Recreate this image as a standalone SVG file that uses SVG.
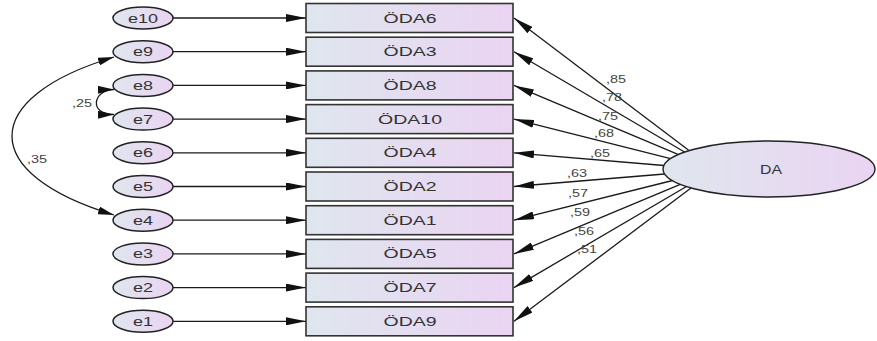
<svg xmlns="http://www.w3.org/2000/svg" width="877" height="341" viewBox="0 0 877 341">
<defs>
<linearGradient id="g" x1="0" y1="0" x2="1" y2="0">
<stop offset="0" stop-color="#dfe6ee"/>
<stop offset="1" stop-color="#ead4f2"/>
</linearGradient>
<marker id="ah" viewBox="0 0 20 8" refX="20" refY="4" markerWidth="20" markerHeight="8" markerUnits="userSpaceOnUse" orient="auto-start-reverse">
<path d="M0,0 L20,4 L0,8 Z" fill="#111"/>
</marker>
<marker id="ah2" viewBox="0 0 16 8" refX="16" refY="4" markerWidth="16" markerHeight="8" markerUnits="userSpaceOnUse" orient="auto-start-reverse">
<path d="M0,0 L16,4 L0,8 Z" fill="#111"/>
</marker>
</defs>
<style>
.err{fill:url(#g);stroke:#222;stroke-width:1.5}
.box{fill:url(#g);stroke:#333;stroke-width:1.6}
.lat{fill:url(#g);stroke:#222;stroke-width:1.4}
.t{font-family:"Liberation Sans",Arial,sans-serif;font-size:13px;fill:#333;text-anchor:middle}
.w{font-family:"Liberation Sans",Arial,sans-serif;font-size:10px;fill:#444}
.c line,.c path{stroke:#1a1a1a;stroke-width:1.3;fill:none}
</style>

<g class="c" id="connectors">
<line x1="173" y1="18" x2="306" y2="18" marker-end="url(#ah)"/>
<line x1="173" y1="51.7" x2="306" y2="51.7" marker-end="url(#ah)"/>
<line x1="173" y1="85.4" x2="306" y2="85.4" marker-end="url(#ah)"/>
<line x1="173" y1="119.1" x2="306" y2="119.1" marker-end="url(#ah)"/>
<line x1="173" y1="152.8" x2="306" y2="152.8" marker-end="url(#ah)"/>
<line x1="173" y1="186.5" x2="306" y2="186.5" marker-end="url(#ah)"/>
<line x1="173" y1="220.2" x2="306" y2="220.2" marker-end="url(#ah)"/>
<line x1="173" y1="253.9" x2="306" y2="253.9" marker-end="url(#ah)"/>
<line x1="173" y1="287.6" x2="306" y2="287.6" marker-end="url(#ah)"/>
<line x1="173" y1="321.3" x2="306" y2="321.3" marker-end="url(#ah)"/>

<line x1="689" y1="150.6" x2="514" y2="18" marker-end="url(#ah)"/>
<line x1="684.5" y1="152" x2="514" y2="51.7" marker-end="url(#ah)"/>
<line x1="678" y1="154.4" x2="514" y2="85.4" marker-end="url(#ah)"/>
<line x1="670.6" y1="158.6" x2="514" y2="119.1" marker-end="url(#ah)"/>
<line x1="664" y1="165.5" x2="514" y2="152.8" marker-end="url(#ah)"/>
<line x1="664.5" y1="174" x2="514" y2="186.5" marker-end="url(#ah)"/>
<line x1="672.6" y1="180.5" x2="514" y2="220.2" marker-end="url(#ah)"/>
<line x1="680.3" y1="184.3" x2="514" y2="253.9" marker-end="url(#ah)"/>
<line x1="686.5" y1="186.5" x2="514" y2="287.6" marker-end="url(#ah)"/>
<line x1="691" y1="188" x2="514" y2="321.3" marker-end="url(#ah)"/>

<path d="M114,57 C-22,98 -22,174 114,215" marker-start="url(#ah2)" marker-end="url(#ah2)"/>
<path d="M114,89.5 C92,90 89,115 114,114.5" marker-start="url(#ah2)" marker-end="url(#ah2)"/>

<text class="w" x="606" y="82.5" textLength="20" lengthAdjust="spacingAndGlyphs">,85</text>
<text class="w" x="602" y="100.5" textLength="20" lengthAdjust="spacingAndGlyphs">,78</text>
<text class="w" x="598" y="119.5" textLength="20" lengthAdjust="spacingAndGlyphs">,75</text>
<text class="w" x="594" y="136.5" textLength="20" lengthAdjust="spacingAndGlyphs">,68</text>
<text class="w" x="590" y="156.5" textLength="20" lengthAdjust="spacingAndGlyphs">,65</text>
<text class="w" x="567" y="177" textLength="20" lengthAdjust="spacingAndGlyphs">,63</text>
<text class="w" x="568" y="197" textLength="20" lengthAdjust="spacingAndGlyphs">,57</text>
<text class="w" x="570" y="216" textLength="20" lengthAdjust="spacingAndGlyphs">,59</text>
<text class="w" x="574" y="234.5" textLength="20" lengthAdjust="spacingAndGlyphs">,56</text>
<text class="w" x="577" y="252.5" textLength="20" lengthAdjust="spacingAndGlyphs">,51</text>
<text class="w" x="72" y="106.5" textLength="20" lengthAdjust="spacingAndGlyphs">,25</text>
<text class="w" x="27" y="162.5" textLength="20" lengthAdjust="spacingAndGlyphs">,35</text>
</g>

<g id="e10"><ellipse class="err" cx="143" cy="18" rx="30" ry="11"/><text class="t" x="143" y="22.5" textLength="30" lengthAdjust="spacingAndGlyphs">e10</text></g>
<g id="e9"><ellipse class="err" cx="143" cy="51.7" rx="30" ry="11"/><text class="t" x="143" y="56.2" textLength="20" lengthAdjust="spacingAndGlyphs">e9</text></g>
<g id="e8"><ellipse class="err" cx="143" cy="85.4" rx="30" ry="11"/><text class="t" x="143" y="89.9" textLength="20" lengthAdjust="spacingAndGlyphs">e8</text></g>
<g id="e7"><ellipse class="err" cx="143" cy="119.1" rx="30" ry="11"/><text class="t" x="143" y="123.6" textLength="20" lengthAdjust="spacingAndGlyphs">e7</text></g>
<g id="e6"><ellipse class="err" cx="143" cy="152.8" rx="30" ry="11"/><text class="t" x="143" y="157.3" textLength="20" lengthAdjust="spacingAndGlyphs">e6</text></g>
<g id="e5"><ellipse class="err" cx="143" cy="186.5" rx="30" ry="11"/><text class="t" x="143" y="191" textLength="20" lengthAdjust="spacingAndGlyphs">e5</text></g>
<g id="e4"><ellipse class="err" cx="143" cy="220.2" rx="30" ry="11"/><text class="t" x="143" y="224.7" textLength="20" lengthAdjust="spacingAndGlyphs">e4</text></g>
<g id="e3"><ellipse class="err" cx="143" cy="253.9" rx="30" ry="11"/><text class="t" x="143" y="258.4" textLength="20" lengthAdjust="spacingAndGlyphs">e3</text></g>
<g id="e2"><ellipse class="err" cx="143" cy="287.6" rx="30" ry="11"/><text class="t" x="143" y="292.1" textLength="20" lengthAdjust="spacingAndGlyphs">e2</text></g>
<g id="e1"><ellipse class="err" cx="143" cy="321.3" rx="30" ry="11"/><text class="t" x="143" y="325.8" textLength="20" lengthAdjust="spacingAndGlyphs">e1</text></g>

<g id="ODA6"><rect class="box" x="306" y="3.5" width="207" height="29"/><text class="t" x="410" y="22.5" textLength="53" lengthAdjust="spacingAndGlyphs">ÖDA6</text></g>
<g id="ODA3"><rect class="box" x="306" y="37.2" width="207" height="29"/><text class="t" x="410" y="56.2" textLength="53" lengthAdjust="spacingAndGlyphs">ÖDA3</text></g>
<g id="ODA8"><rect class="box" x="306" y="70.9" width="207" height="29"/><text class="t" x="410" y="89.9" textLength="53" lengthAdjust="spacingAndGlyphs">ÖDA8</text></g>
<g id="ODA10"><rect class="box" x="306" y="104.6" width="207" height="29"/><text class="t" x="410" y="123.6" textLength="64" lengthAdjust="spacingAndGlyphs">ÖDA10</text></g>
<g id="ODA4"><rect class="box" x="306" y="138.3" width="207" height="29"/><text class="t" x="410" y="157.3" textLength="53" lengthAdjust="spacingAndGlyphs">ÖDA4</text></g>
<g id="ODA2"><rect class="box" x="306" y="172" width="207" height="29"/><text class="t" x="410" y="191" textLength="53" lengthAdjust="spacingAndGlyphs">ÖDA2</text></g>
<g id="ODA1"><rect class="box" x="306" y="205.7" width="207" height="29"/><text class="t" x="410" y="224.7" textLength="53" lengthAdjust="spacingAndGlyphs">ÖDA1</text></g>
<g id="ODA5"><rect class="box" x="306" y="239.4" width="207" height="29"/><text class="t" x="410" y="258.4" textLength="53" lengthAdjust="spacingAndGlyphs">ÖDA5</text></g>
<g id="ODA7"><rect class="box" x="306" y="273.1" width="207" height="29"/><text class="t" x="410" y="292.1" textLength="53" lengthAdjust="spacingAndGlyphs">ÖDA7</text></g>
<g id="ODA9"><rect class="box" x="306" y="306.8" width="207" height="29"/><text class="t" x="410" y="325.8" textLength="53" lengthAdjust="spacingAndGlyphs">ÖDA9</text></g>

<g id="DA"><ellipse class="lat" cx="769" cy="169" rx="106" ry="28"/><text class="t" x="771" y="173.5" font-size="12" textLength="22" lengthAdjust="spacingAndGlyphs">DA</text></g>
</svg>
